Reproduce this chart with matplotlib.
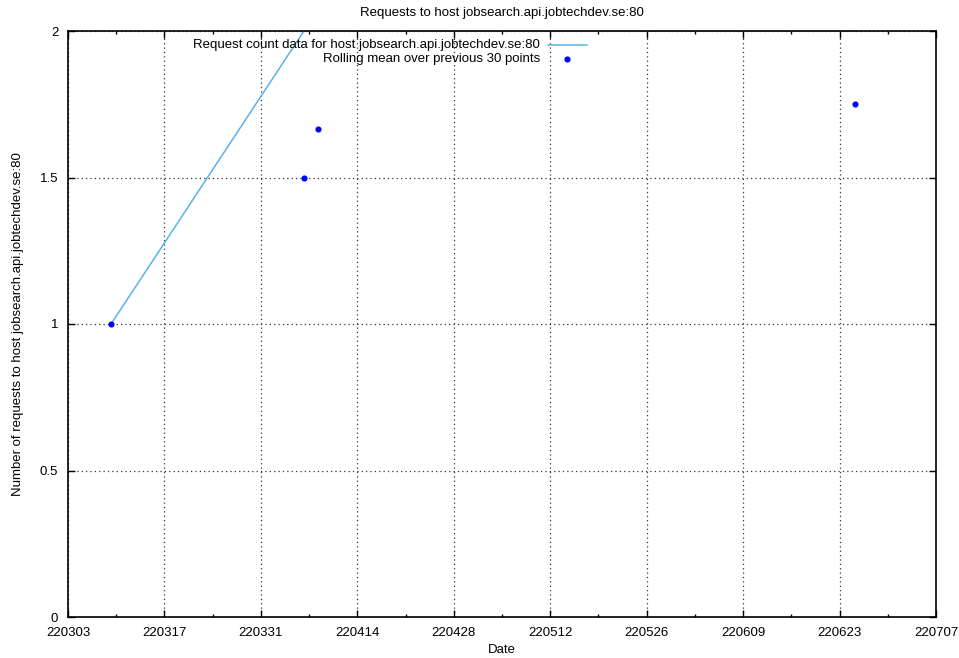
import matplotlib
matplotlib.use("Agg")
import matplotlib.pyplot as plt
import matplotlib.dates as mdates
from matplotlib.lines import Line2D
import pandas as pd

plt.rcParams['font.family'] = ['Liberation Sans', 'DejaVu Sans']

# Data
dates = ["2022-03-09 06:00", "2022-04-06 06:00", "2022-04-08 06:00", "2022-06-25 06:00"]
counts = [1, 2, 2, 2]
rolling_mean = [1.0, 1.5, 1.6667, 1.75]
xtick_labels_dates = ["2022-03-03", "2022-03-17", "2022-03-31", "2022-04-14", "2022-04-28",
                      "2022-05-12", "2022-05-26", "2022-06-09", "2022-06-23", "2022-07-07"]
yticks = [0, 0.5, 1, 1.5, 2]

x = pd.to_datetime(dates)
xt = pd.to_datetime(xtick_labels_dates)

fig = plt.figure(figsize=(9.59, 6.58), dpi=100)
ax = fig.add_axes([68/959, 1-617/658, (936-68)/959, (617-31)/658])

ax.plot(x, counts, color='#56b4e9', lw=1.1, zorder=2, clip_on=True)
ax.plot(x, rolling_mean, linestyle='none', marker='o', ms=3.4, color='#0000ff', zorder=3)

ax.set_xlim(xt[0], xt[-1])
ax.set_ylim(0, 2)
ax.set_xticks(xt)
ax.xaxis.set_major_formatter(mdates.DateFormatter('%y%m%d'))
minor = pd.date_range(xt[0], xt[-1], freq='7D')
ax.set_xticks(minor, minor=True)
ax.set_yticks(yticks)
ax.set_yticklabels(['0', '0.5', '1', '1.5', '2'])

ax.tick_params(axis='both', which='major', direction='in', length=5, width=1,
               top=True, right=True, labelsize=9.5)
ax.tick_params(axis='x', which='major', pad=7)
ax.tick_params(axis='y', which='major', pad=7)
ax.tick_params(axis='both', which='minor', direction='in', length=2.5, width=1,
               top=True, right=True)
ax.tick_params(axis='y', which='minor', left=False, right=False)

ax.grid(True, which='major', color='#333333', linestyle=(0, (1, 2.5)), lw=0.9)
for s in ax.spines.values():
    s.set_linewidth(1.2)
    s.set_zorder(4)

ax.set_title("Requests to host jobsearch.api.jobtechdev.se:80", fontsize=9.5, pad=11)
ax.set_xlabel("Date", fontsize=9.5, labelpad=4)
ax.set_ylabel("Number of requests to host jobsearch.api.jobtechdev.se:80", fontsize=9.5, labelpad=11)

# Key (legend)
ax.text(0.5438, 0.976, "Request count data for host jobsearch.api.jobtechdev.se:80",
        transform=ax.transAxes, ha='right', va='center', fontsize=9.5)
ax.add_line(Line2D([0.553, 0.598], [0.976, 0.976], transform=ax.transAxes,
                   color='#56b4e9', lw=1.1))
ax.text(0.5438, 0.952, "Rolling mean over previous 30 points",
        transform=ax.transAxes, ha='right', va='center', fontsize=9.5)
ax.add_line(Line2D([0.575], [0.952], transform=ax.transAxes, marker='o', ms=3.4,
                   color='#0000ff', linestyle='none'))

fig.savefig("out.png", dpi=100)
